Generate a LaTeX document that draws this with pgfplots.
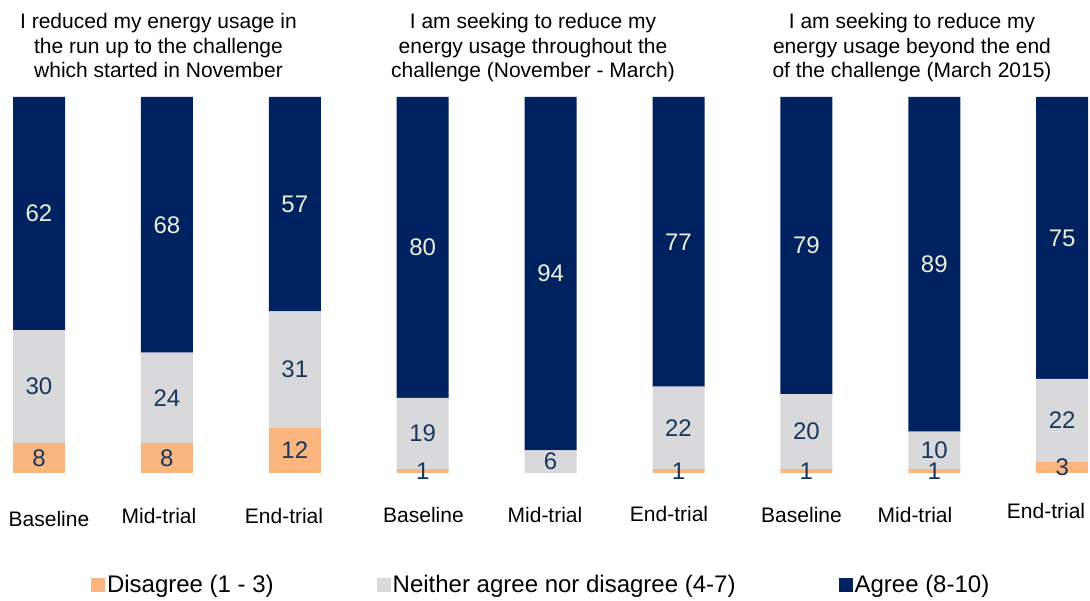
\documentclass[border=0pt]{standalone}
\usepackage{pgfplots}
\pgfplotsset{compat=1.18}
\usepackage{pgfplotstable}
\usepackage{fontspec}
\setmainfont{Liberation Sans}
\definecolor{dis}{RGB}{250,182,126}
\definecolor{neu}{RGB}{217,217,219}
\definecolor{agr}{RGB}{0,34,96}
\definecolor{lbl}{RGB}{23,55,94}
\definecolor{lbllight}{RGB}{234,241,221}
\pgfplotsset{sq/.style={legend image code/.code={\fill[##1] (0pt,-7pt) rectangle (14pt,7pt);}}}
\tikzset{vlbl/.style={font=\fontsize{24}{28}\selectfont, text=lbl, anchor=center},
  wlbl/.style={font=\fontsize{24}{28}\selectfont, text=lbllight, anchor=center}}

\pgfplotstableread{
x dis neu agr
0 8 30 62
1 8 24 68
2 12 31 57
3 1 19 80
4 0 6 94
5 1 22 77
6 1 20 79
7 1 10 89
8 3 22 75
}\datatab

\begin{document}
\begin{tikzpicture}[x=1pt,y=1pt]
\begin{axis}[at={(0pt,0pt)}, anchor=south west, scale only axis,
  width=1090pt, height=601pt,
  xmin=-0.30493, xmax=8.2174, ymin=-34.043, ymax=125.798,
  hide axis, clip=false, ybar stacked, bar width=52pt,
  legend columns=3,
  legend style={at={(axis description cs:0.0835,0.02662)}, anchor=west,
    draw=none, fill=none, inner sep=0pt, outer sep=0pt,
    font=\fontsize{24}{28}\selectfont,
    nodes={inner sep=2pt},
    /tikz/every even column/.append style={column sep=101pt}},
]
\addplot[fill=dis, draw=none, forget plot] table[x=x,y=dis]{\datatab};
\addplot[fill=neu, draw=none, forget plot] table[x=x,y=neu]{\datatab};
\addplot[fill=agr, draw=none, forget plot] table[x=x,y=agr]{\datatab};
\addlegendimage{sq, fill=dis, draw=none}
\addlegendentry{Disagree (1 - 3)}
\addlegendimage{sq, fill=neu, draw=none}
\addlegendentry{Neither agree nor disagree (4-7)}
\addlegendimage{sq, fill=agr, draw=none}
\addlegendentry{Agree (8-10)}
% label anchor points (segment middles)
\coordinate (a0) at (axis cs:0,4);
\coordinate (b0) at (axis cs:0,23);
\coordinate (c0) at (axis cs:0,69);
\coordinate (a1) at (axis cs:1,4);
\coordinate (b1) at (axis cs:1,20);
\coordinate (c1) at (axis cs:1,66);
\coordinate (a2) at (axis cs:2,6);
\coordinate (b2) at (axis cs:2,27.5);
\coordinate (c2) at (axis cs:2,71.5);
\coordinate (a3) at (axis cs:3,0.5);
\coordinate (b3) at (axis cs:3,10.5);
\coordinate (c3) at (axis cs:3,60);
\coordinate (b4) at (axis cs:4,3);
\coordinate (c4) at (axis cs:4,53);
\coordinate (a5) at (axis cs:5,0.5);
\coordinate (b5) at (axis cs:5,12);
\coordinate (c5) at (axis cs:5,61.5);
\coordinate (a6) at (axis cs:6,0.5);
\coordinate (b6) at (axis cs:6,11);
\coordinate (c6) at (axis cs:6,60.5);
\coordinate (a7) at (axis cs:7,0.5);
\coordinate (b7) at (axis cs:7,6);
\coordinate (c7) at (axis cs:7,55.5);
\coordinate (a8) at (axis cs:8,1.5);
\coordinate (b8) at (axis cs:8,14);
\coordinate (c8) at (axis cs:8,62.5);
\end{axis}
% value labels
\node[vlbl] at (a0) {8};
\node[vlbl] at (b0) {30};
\node[wlbl] at (c0) {62};
\node[vlbl] at (a1) {8};
\node[vlbl] at (b1) {24};
\node[wlbl] at (c1) {68};
\node[vlbl] at (a2) {12};
\node[vlbl] at (b2) {31};
\node[wlbl] at (c2) {57};
\node[vlbl] at (a3) {1};
\node[vlbl] at (b3) {19};
\node[wlbl] at (c3) {80};
\node[vlbl] at (b4) {6};
\node[wlbl] at (c4) {94};
\node[vlbl] at (a5) {1};
\node[vlbl] at (b5) {22};
\node[wlbl] at (c5) {77};
\node[vlbl] at (a6) {1};
\node[vlbl] at (b6) {20};
\node[wlbl] at (c6) {79};
\node[vlbl] at (a7) {1};
\node[vlbl] at (b7) {10};
\node[wlbl] at (c7) {89};
\node[vlbl] at (a8) {3};
\node[vlbl] at (b8) {22};
\node[wlbl] at (c8) {75};
% titles
\begin{scope}[every node/.style={anchor=north, align=center, inner sep=0pt, font=\fontsize{21}{24.5}\selectfont}]
\node at (158.5,587.5) {I reduced my energy usage in\\the run up to the challenge\\which started in November};
\node at (533,587.5) {I am seeking to reduce my\\energy usage throughout the\\challenge (November - March)};
\node at (912,587.5) {I am seeking to reduce my\\energy usage beyond the end\\of the challenge (March 2015)};
\end{scope}
% category labels
\begin{scope}[every node/.style={anchor=base, inner sep=0pt, font=\fontsize{21}{25}\selectfont}]
\node at (49,74) {Baseline};
\node at (159,77) {Mid-trial};
\node at (284,77) {End-trial};
\node at (423.5,78) {Baseline};
\node at (545,78) {Mid-trial};
\node at (669,79) {End-trial};
\node at (801.5,78) {Baseline};
\node at (915,78) {Mid-trial};
\node at (1046,82) {End-trial};
\end{scope}
\pgfresetboundingbox
\path[use as bounding box] (0,0) rectangle (1090,601);
\end{tikzpicture}
\end{document}
